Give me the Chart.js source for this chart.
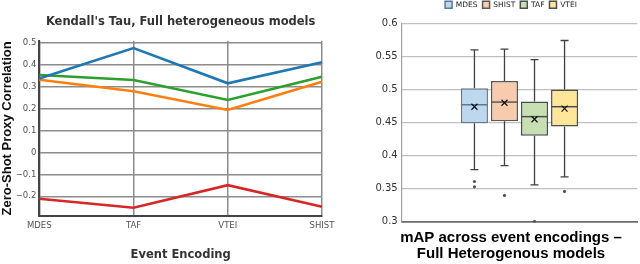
<!DOCTYPE html>
<html>
<head>
<meta charset="utf-8">
<script src="https://cdn.jsdelivr.net/npm/chart.js@4"></script>
<style>
    html, body { margin: 0; padding: 0; background: #fff; }
    #wrap { position: relative; width: 640px; height: 264px; overflow: hidden; }
    #tauChart { position: absolute; left: 0; top: 0; }
    #mapChart { position: absolute; left: 358px; top: 0; }
</style>
</head>
<body>
<div id="wrap">
    <canvas id="tauChart" width="358" height="264"></canvas>
    <canvas id="mapChart" width="282" height="264"></canvas>
</div>
<script>
// Left chart: Kendall's Tau per event encoding
const encodings = ['MDES', 'TAF', 'VTEI', 'SHIST'];
const tauBlue = [0.338, 0.477, 0.316, 0.412];
const tauOrange = [0.332, 0.280, 0.194, 0.323];
const tauGreen = [0.354, 0.331, 0.240, 0.346];
const tauRed = [-0.211, -0.252, -0.149, -0.248];
const tauTicks = [-0.2, -0.1, 0, 0.1, 0.2, 0.3, 0.4, 0.5];

// Right chart: mAP box plots
const boxNames = ['MDES', 'SHIST', 'TAF', 'VTEI'];
const boxQ1 = [0.449, 0.452, 0.430, 0.444];
const boxQ3 = [0.502, 0.513, 0.482, 0.500];
const boxMedian = [0.477, 0.481, 0.459, 0.474];
const boxMean = [0.474, 0.480, 0.455, 0.471];
const boxLow = [0.379, 0.385, 0.356, 0.368];
const boxHigh = [0.560, 0.561, 0.545, 0.574];
const boxOutliers = [[0.361, 0.353], [0.340], [0.301], [0.346]];
const mapTicks = [0.3, 0.35, 0.4, 0.45, 0.5, 0.55, 0.6];

const boxFill = ['#bdd7ee', '#f8cbad', '#c6e0b4', '#ffe699'];
const boxEdge = ['#5f7791', '#595959', '#4d4d4d', '#4d4d4d'];

function lineSet(label, data, color) {
    return {
        label: label,
        data: data,
        borderColor: color,
        backgroundColor: color,
        borderWidth: 2.6,
        pointRadius: 0,
        tension: 0,
        fill: false
    };
}

new Chart(document.getElementById('tauChart'), {
    type: 'line',
    data: {
        labels: encodings,
        datasets: [
            lineSet('Blue', tauBlue, '#1f77b4'),
            lineSet('Orange', tauOrange, '#ff7f0e'),
            lineSet('Green', tauGreen, '#2ca02c'),
            lineSet('Red', tauRed, '#d62728')
        ]
    },
    options: {
        responsive: false,
        animation: false,
        layout: { padding: { left: 0, right: 36, top: 0, bottom: 0 } },
        plugins: {
            legend: { display: false },
            tooltip: { enabled: false },
            title: {
                display: true,
                fullSize: false,
                text: "Kendall's Tau, Full heterogeneous models",
                color: '#333',
                font: { family: 'DejaVu Sans', size: 11.5, weight: 'bold' },
                padding: { top: 15, bottom: 12 }
            }
        },
        scales: {
            x: {
                offset: false,
                grid: { color: '#8c8c8c', lineWidth: 1.5, drawTicks: false },
                border: { color: '#444', width: 2 },
                ticks: {
                    color: '#555',
                    padding: 5,
                    maxRotation: 0,
                    font: { family: 'DejaVu Sans', size: 8.5 }
                },
                title: {
                    display: true,
                    text: 'Event Encoding',
                    color: '#333',
                    font: { family: 'DejaVu Sans', size: 11.5, weight: 'bold' },
                    padding: { top: 0, bottom: 2 }
                },
                afterFit: (axis) => {
                    axis.height = 48;
                    axis.paddingLeft = 0;
                    axis.paddingRight = 0;
                }
            },
            y: {
                min: -0.29,
                max: 0.51,
                afterBuildTicks: (axis) => { axis.ticks = tauTicks.map(v => ({ value: v })); },
                grid: { color: '#8c8c8c', lineWidth: 1.5, drawTicks: false },
                border: { color: '#444', width: 2 },
                ticks: {
                    color: '#555',
                    padding: 3,
                    font: { family: 'DejaVu Sans', size: 8.5 },
                    callback: (v) => v === 0 ? '0' : (v < 0 ? '\u2212' + Math.abs(v).toFixed(1) : v.toFixed(1))
                },
                title: {
                    display: true,
                    text: 'Zero-Shot Proxy Correlation',
                    color: '#111',
                    font: { family: 'Liberation Sans', size: 13, weight: 'bold' },
                    padding: { top: 0, bottom: 0 }
                },
                afterFit: (axis) => { axis.width = 39.3; }
            }
        }
    }
});

// draws whiskers, medians, means and outliers on top of the IQR bars
const boxPlotExtras = {
    id: 'boxPlotExtras',
    beforeDatasetsDraw(chart) {
        const ctx = chart.ctx;
        const y = chart.scales.y;
        ctx.save();
        ctx.strokeStyle = '#404040';
        ctx.lineWidth = 1.3;
        chart.data.datasets.forEach((ds, i) => {
            const bar = chart.getDatasetMeta(i).data[0];
            const cap = 4;
            const yHi = y.getPixelForValue(boxHigh[i]);
            const yLo = y.getPixelForValue(boxLow[i]);
            ctx.beginPath();
            ctx.moveTo(bar.x, y.getPixelForValue(boxQ3[i]));
            ctx.lineTo(bar.x, yHi);
            ctx.moveTo(bar.x - cap, yHi);
            ctx.lineTo(bar.x + cap, yHi);
            ctx.moveTo(bar.x, y.getPixelForValue(boxQ1[i]));
            ctx.lineTo(bar.x, yLo);
            ctx.moveTo(bar.x - cap, yLo);
            ctx.lineTo(bar.x + cap, yLo);
            ctx.stroke();
        });
        ctx.restore();
    },
    afterDatasetsDraw(chart) {
        const ctx = chart.ctx;
        const y = chart.scales.y;
        ctx.save();
        chart.data.datasets.forEach((ds, i) => {
            const bar = chart.getDatasetMeta(i).data[0];
            const half = bar.width / 2;
            // median
            const ym = y.getPixelForValue(boxMedian[i]);
            ctx.strokeStyle = boxEdge[i];
            ctx.lineWidth = 1.5;
            ctx.beginPath();
            ctx.moveTo(bar.x - half, ym);
            ctx.lineTo(bar.x + half, ym);
            ctx.stroke();
            // mean marker
            const yx = y.getPixelForValue(boxMean[i]);
            ctx.strokeStyle = '#111';
            ctx.lineWidth = 1.2;
            ctx.beginPath();
            ctx.moveTo(bar.x - 3, yx - 3);
            ctx.lineTo(bar.x + 3, yx + 3);
            ctx.moveTo(bar.x + 3, yx - 3);
            ctx.lineTo(bar.x - 3, yx + 3);
            ctx.stroke();
            // outliers
            ctx.fillStyle = '#555';
            boxOutliers[i].forEach(v => {
                ctx.beginPath();
                ctx.arc(bar.x, y.getPixelForValue(v), 1.6, 0, Math.PI * 2);
                ctx.fill();
            });
        });
        ctx.restore();
    }
};

new Chart(document.getElementById('mapChart'), {
    type: 'bar',
    data: {
        labels: [''],
        datasets: boxNames.map((name, i) => ({
            label: name,
            data: [[boxQ1[i], boxQ3[i]]],
            backgroundColor: boxFill[i],
            borderColor: boxEdge[i],
            borderWidth: 1.5,
            borderSkipped: false,
            categoryPercentage: 0.51,
            barPercentage: 0.9
        }))
    },
    options: {
        responsive: false,
        animation: false,
        layout: { padding: { left: 26.7, right: 2.7, top: -4, bottom: 0 } },
        plugins: {
            tooltip: { enabled: false },
            legend: {
                position: 'top',
                labels: {
                    color: '#222',
                    boxWidth: 7,
                    boxHeight: 7,
                    padding: 5,
                    font: { family: 'DejaVu Sans', size: 7.5 }
                }
            },
            title: {
                display: true,
                position: 'bottom',
                text: ['mAP across event encodings \u2013', 'Full Heterogenous models'],
                color: '#000',
                font: { family: 'Liberation Sans', size: 15, weight: 'bold', lineHeight: 1.07 },
                padding: { top: 8, bottom: 2 }
            }
        },
        scales: {
            x: {
                grid: { display: false, drawTicks: false },
                border: { color: '#6e6e6e', width: 1.8 },
                ticks: { display: false },
                afterFit: (axis) => { axis.height = 0; }
            },
            // empty spacer between the legend and the plot
            gap: {
                type: 'category',
                labels: [''],
                position: 'top',
                grid: { display: false, drawTicks: false },
                border: { display: false },
                ticks: { display: false },
                afterFit: (axis) => { axis.height = 4.8; }
            },
            y: {
                min: 0.3,
                max: 0.6,
                afterBuildTicks: (axis) => { axis.ticks = mapTicks.map(v => ({ value: v })); },
                grid: { color: '#c0c0c0', lineWidth: 1.2, drawTicks: false },
                border: { color: '#a0a0a0', width: 1.2 },
                ticks: {
                    color: '#333',
                    padding: 4,
                    font: { family: 'DejaVu Sans', size: 10 },
                    callback: (v) => String(Math.round(v * 100) / 100)
                },
                afterFit: (axis) => {
                    axis.width = 17;
                    // let the tick labels run past the narrow axis box
                    axis._computeLabelArea = () => null;
                }
            }
        }
    },
    plugins: [boxPlotExtras]
});
</script>
</body>
</html>
